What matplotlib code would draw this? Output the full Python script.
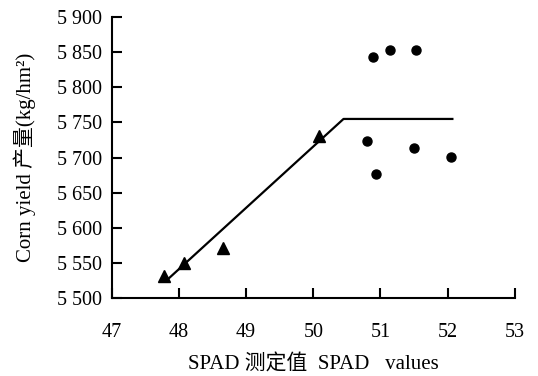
import matplotlib
matplotlib.use('Agg')
import matplotlib.pyplot as plt

plt.rcParams['font.family'] = ['Liberation Serif', 'Noto Sans CJK SC', 'DejaVu Sans']

# triangles: SPAD below plateau
spad_low = [47.78, 48.07, 48.65, 50.09]
yield_low = [5531, 5549, 5571, 5731]
# circles: SPAD above plateau
spad_high = [50.89, 51.14, 51.53, 50.80, 50.93, 51.50, 52.05]
yield_high = [5843, 5853, 5853, 5724, 5676, 5714, 5701]
# linear-plateau fit
fit_x = [47.82, 50.45, 52.07]
fit_y = [5525, 5755, 5755]

xticks = [47, 48, 49, 50, 51, 52, 53]
yticks = [5500, 5550, 5600, 5650, 5700, 5750, 5800, 5850, 5900]
ytick_labels = ['5 500', '5 550', '5 600', '5 650', '5 700', '5 750', '5 800', '5 850', '5 900']

fig = plt.figure(figsize=(5.38, 3.76), dpi=100)
ax = fig.add_axes([0.2076, 0.2082, 0.7494, 0.7458])

ax.plot(fit_x, fit_y, '-', color='black', lw=1.6)
ax.plot(spad_low, yield_low, '^', color='black', ms=8.5, ls='none')
ax.plot(spad_high, yield_high, 'o', color='black', ms=6.5, ls='none')

ax.set_xlim(47, 53)
ax.set_ylim(5500, 5900)
ax.set_xticks(xticks)
ax.set_yticks(yticks)
ax.set_yticklabels(ytick_labels)
ax.spines['top'].set_visible(False)
ax.spines['right'].set_visible(False)
for s in ['left', 'bottom']:
    ax.spines[s].set_linewidth(1.5)
ax.tick_params(axis='both', direction='in', length=7, width=1.5, labelsize=14.5)
ax.tick_params(axis='x', pad=18)
ax.tick_params(axis='y', pad=7)

ax.set_xlabel('SPAD 测定值  SPAD   values', fontsize=15, labelpad=9)
ax.set_ylabel('Corn yield 产量(kg/hm²)', fontsize=15, labelpad=15)

fig.savefig('out.png', dpi=100)
